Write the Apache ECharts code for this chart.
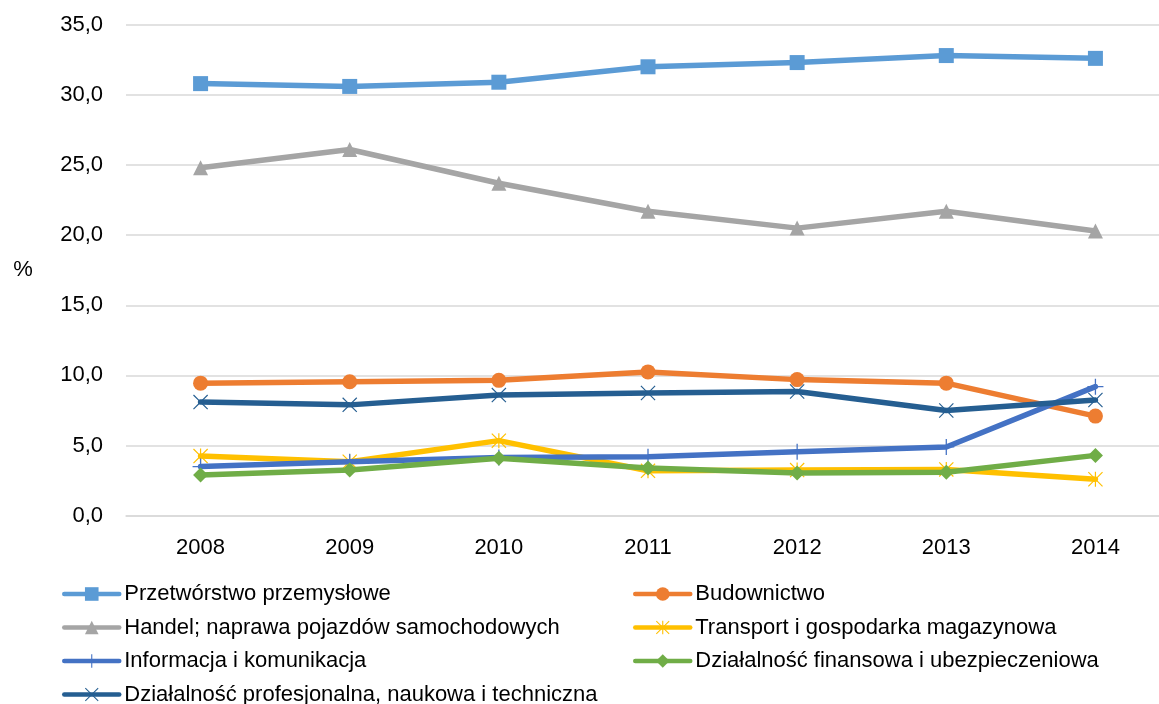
<!DOCTYPE html>
<html>
<head>
<meta charset="utf-8">
<script src="https://cdn.jsdelivr.net/npm/echarts@6/dist/echarts.min.js"></script>
<style>html,body{margin:0;padding:0;background:#fff}#c{width:1159px;height:704px}</style>
</head>
<body>
<div id="c"></div>
<script>
const years = ['2008','2009','2010','2011','2012','2013','2014'];
const yTicks = [0, 5, 10, 15, 20, 25, 30, 35];
const seriesNames = [
  'Przetwórstwo przemysłowe',
  'Budownictwo',
  'Handel; naprawa pojazdów samochodowych',
  'Transport i gospodarka magazynowa',
  'Informacja i komunikacja',
  'Działalność finansowa i ubezpieczeniowa',
  'Działalność profesjonalna, naukowa i techniczna'
];
const przetworstwo = [30.8, 30.6, 30.9, 32.0, 32.3, 32.8, 32.6];
const budownictwo = [9.45, 9.55, 9.65, 10.25, 9.7, 9.45, 7.1];
const handel = [24.8, 26.1, 23.7, 21.7, 20.5, 21.7, 20.3];
const transport = [4.25, 3.85, 5.35, 3.2, 3.25, 3.3, 2.6];
const informacja = [3.5, 3.85, 4.15, 4.2, 4.55, 4.9, 9.2];
const finansowa = [2.9, 3.25, 4.1, 3.4, 3.05, 3.1, 4.3];
const profesjonalna = [8.1, 7.9, 8.6, 8.75, 8.85, 7.5, 8.25];

const colors = ['#5B9BD5', '#ED7D31', '#A5A5A5', '#FFC000', '#4472C4', '#70AD47', '#255E91'];
const plusPath = 'path://M9.2,0h1.6v9.2h9.2v1.6h-9.2v9.2h-1.6v-9.2h-9.2v-1.6h9.2z';
const xPath = 'path://M0,1.1L1.1,0L10,8.9L18.9,0L20,1.1L11.1,10L20,18.9L18.9,20L10,11.1L1.1,20L0,18.9L8.9,10Z';
const starPath = 'path://M0,1.1L1.1,0L10,8.9L18.9,0L20,1.1L11.1,10L20,18.9L18.9,20L10,11.1L1.1,20L0,18.9L8.9,10Z M9.2,0h1.6v20h-1.6z';
const symbols = ['rect', 'circle', 'triangle', starPath, plusPath, 'diamond', xPath];
const sizes = [15, 15, 15, 15, 16, 15, 15];
const dataSets = [przetworstwo, budownictwo, handel, transport, informacja, finansowa, profesjonalna];

const font = 'Liberation Sans, Arial, sans-serif';
const chart = echarts.init(document.getElementById('c'), null, {renderer: 'canvas'});
const series = dataSets.map((d, i) => ({
  name: seriesNames[i],
  type: 'line',
  data: d,
  symbol: symbols[i],
  symbolSize: sizes[i],
  showAllSymbol: true,
  lineStyle: {color: colors[i], width: 5.5, cap: 'round', join: 'round'},
  itemStyle: {color: colors[i], borderWidth: 0},
  emphasis: {disabled: true},
  z: 2 + i
}));

const legendCommon = {
  orient: 'vertical',
  padding: 0,
  itemWidth: 55,
  itemHeight: 17,
  itemGap: 11.5,
  height: 200,
  lineStyle: {width: 4.5},
  textStyle: {fontFamily: font, fontSize: 22, color: '#000', lineHeight: 22},
  selectedMode: false
};

chart.setOption({
  animation: false,
  color: colors,
  textStyle: {fontFamily: font},
  grid: {left: 126, top: 24.7, right: -11, bottom: 188.3, containLabel: false, outerBoundsMode: 'none'},
  legend: [
    Object.assign({}, legendCommon, {left: 62, top: 583, data: [seriesNames[0], seriesNames[2], seriesNames[4], seriesNames[6]]}),
    Object.assign({}, legendCommon, {left: 633, top: 583, data: [seriesNames[1], seriesNames[3], seriesNames[5]]})
  ],
  xAxis: {
    type: 'category',
    data: years,
    boundaryGap: true,
    axisLine: {show: true, lineStyle: {color: '#D9D9D9', width: 1.5}},
    axisTick: {show: false},
    axisLabel: {fontFamily: font, fontSize: 22, color: '#000', margin: 21}
  },
  yAxis: {
    type: 'value',
    min: yTicks[0],
    max: yTicks[yTicks.length - 1],
    interval: yTicks[1] - yTicks[0],
    name: '%',
    nameLocation: 'middle',
    nameRotate: 0,
    nameGap: 103,
    nameTextStyle: {fontFamily: font, fontSize: 22, color: '#000', align: 'center', verticalAlign: 'middle'},
    axisLine: {show: false},
    axisTick: {show: false},
    splitLine: {lineStyle: {color: '#D9D9D9', width: 1.5}},
    axisLabel: {
      fontFamily: font, fontSize: 22, color: '#000', margin: 23,
      formatter: v => v.toFixed(1).replace('.', ',')
    }
  },
  series: series
});
</script>
</body>
</html>
